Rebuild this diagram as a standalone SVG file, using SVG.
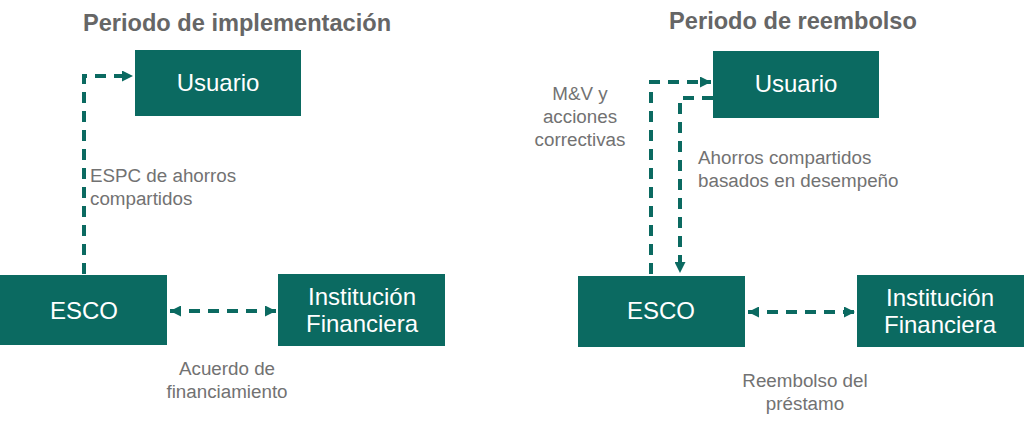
<svg xmlns="http://www.w3.org/2000/svg" width="1024" height="424" viewBox="0 0 1024 424">
<defs>
<marker id="ah" viewBox="0 0 10 10" refX="10" refY="5" markerWidth="11" markerHeight="11" markerUnits="userSpaceOnUse" orient="auto-start-reverse">
<path d="M0,0 L10,5 L0,10 Z" fill="#0B6A61"/>
</marker>
<style>
.box{fill:#0B6A61}
.bt{font-family:"Liberation Sans",Arial,sans-serif;font-size:24px;fill:#fff;text-anchor:middle}
.title{font-family:"Liberation Sans",Arial,sans-serif;font-size:23.6px;font-weight:bold;fill:#666;text-anchor:middle}
.lbl{font-family:"Liberation Sans",Arial,sans-serif;font-size:18.8px;fill:#727272}
.c{stroke:#0B6A61;stroke-width:4;fill:none;stroke-dasharray:11 8}
</style>
</defs>
<rect width="1024" height="424" fill="#fff"/>
<text class="title" x="237" y="31">Periodo de implementación</text>
<text class="title" x="793" y="29">Periodo de reembolso</text>

<g id="connectors">
<path class="c" d="M84,274 V76 H133" marker-end="url(#ah)"/>
<path class="c" d="M170,311 H276" marker-start="url(#ah)" marker-end="url(#ah)"/>
<path class="c" d="M651,274 V82 H711" marker-end="url(#ah)"/>
<path class="c" d="M713,98 H680 V273" marker-end="url(#ah)"/>
<path class="c" d="M748,312 H855" marker-start="url(#ah)" marker-end="url(#ah)"/>
</g>

<g id="usuario1"><rect class="box" x="135" y="50" width="166" height="66"/><text class="bt" x="218" y="91">Usuario</text></g>
<g id="esco1"><rect class="box" x="0" y="275" width="167" height="70"/><text class="bt" x="84" y="319">ESCO</text></g>
<g id="inst1"><rect class="box" x="278" y="274" width="167" height="72"/><text class="bt" x="362" y="305">Institución</text><text class="bt" x="362" y="332">Financiera</text></g>

<g id="usuario2"><rect class="box" x="713" y="51" width="166" height="67"/><text class="bt" x="796" y="92">Usuario</text></g>
<g id="esco2"><rect class="box" x="578" y="276" width="167" height="71"/><text class="bt" x="661" y="319">ESCO</text></g>
<g id="inst2"><rect class="box" x="857" y="275" width="167" height="72"/><text class="bt" x="940" y="306">Institución</text><text class="bt" x="940" y="333">Financiera</text></g>

<g id="labels">
<text class="lbl" x="90" y="182">ESPC de ahorros</text>
<text class="lbl" x="90" y="205">compartidos</text>
<text class="lbl" x="227" y="375" text-anchor="middle">Acuerdo de</text>
<text class="lbl" x="227" y="398" text-anchor="middle">financiamiento</text>
<text class="lbl" x="580" y="100" text-anchor="middle">M&amp;V y</text>
<text class="lbl" x="580" y="123" text-anchor="middle">acciones</text>
<text class="lbl" x="580" y="146" text-anchor="middle">correctivas</text>
<text class="lbl" x="698" y="164">Ahorros compartidos</text>
<text class="lbl" x="698" y="187">basados en desempeño</text>
<text class="lbl" x="805" y="387" text-anchor="middle">Reembolso del</text>
<text class="lbl" x="805" y="410" text-anchor="middle">préstamo</text>
</g>
</svg>
